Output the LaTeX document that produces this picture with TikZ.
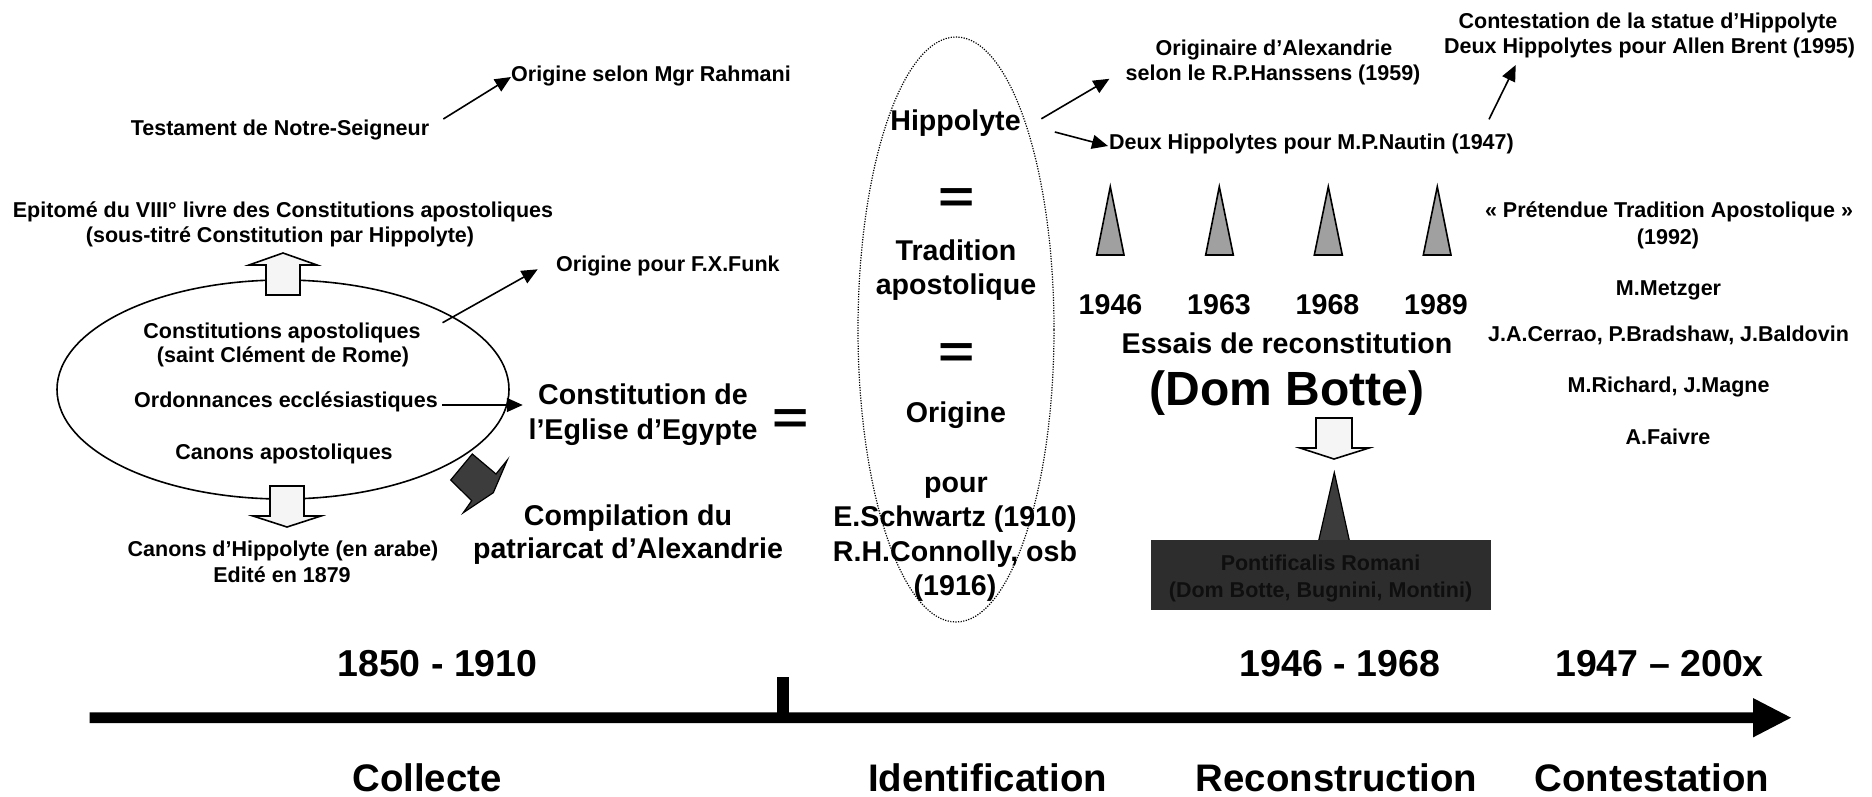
\documentclass[tikz,border=0pt]{standalone}
\usepackage{fontspec}
\usepackage{graphicx}
\setmainfont{Liberation Sans}
\usetikzlibrary{arrows.meta}
\definecolor{lightfill}{RGB}{245,245,245}
\definecolor{trigray}{RGB}{160,160,160}
\definecolor{darkfill}{RGB}{60,60,60}
\definecolor{boxfill}{RGB}{45,45,45}
\definecolor{boxtext}{RGB}{15,15,15}
\newcommand\ftS{\fontsize{21.5}{25.8}\selectfont\bfseries}
\newcommand\ftB{\fontsize{28.6}{34.3}\selectfont\bfseries}
\newcommand\ftH{\fontsize{48}{57.6}\selectfont\bfseries}
\newcommand\ftD{\fontsize{37.5}{45}\selectfont\bfseries}
\newcommand\ftL{\fontsize{38.4}{46}\selectfont\bfseries}
\newcommand\ftE{\fontsize{46}{55}\selectfont\bfseries}
\begin{document}
\begin{tikzpicture}[x=1pt,y=-1pt,
  txt/.style={anchor=base, inner sep=0pt, font=\ftS},
  big/.style={anchor=base, inner sep=0pt, font=\ftB},
  eqsign/.style={anchor=base, inner sep=0pt, font=\ftE},
  datelbl/.style={anchor=base, inner sep=0pt, font=\ftD},
  phase/.style={anchor=base, inner sep=0pt, font=\ftL},
  arr/.style={line width=1.6pt, -{Triangle[length=16pt,width=14pt]}},
  blockarrow/.style={draw=black, line width=1.6pt, fill=lightfill, line join=miter},
  spike/.style={draw=black, line width=1.6pt, fill=trigray, line join=miter},
  dotline/.style={line width=1.2pt, dash pattern=on 1.2pt off 1.4pt}]
\fill[white] (0,0) rectangle (1872,796);
\useasboundingbox (0,0) rectangle (1872,796);

% ---------- left: collection ----------
\draw[line width=1.6pt] (283,389.5) ellipse [x radius=226pt, y radius=109.5pt];
% up block arrow
\draw[blockarrow] (266,295) -- (266,265) -- (249,265) -- (283,253) -- (317,265) -- (300,265) -- (300,295) -- cycle;
% down block arrow
\draw[blockarrow] (270,486) -- (304,486) -- (304,516) -- (321,516) -- (287,527) -- (253,516) -- (270,516) -- cycle;
% dark bent arrow
\draw[fill=darkfill, draw=black, line width=1.2pt, line join=miter]
  (450.7,480) -- (471.7,500.7) -- (463.3,512.7) -- (493.3,492.7) -- (507.3,460) -- (496,474) -- (472.3,454) -- cycle;

\node[txt] (testament) at (280,135.7) {Testament de Notre-Seigneur};
\node[txt, anchor=base west] (rahmani) at (511,81.7) {Origine selon Mgr Rahmani};
\node[txt] (epi1) at (283,217) {Epitomé du VIII° livre des Constitutions apostoliques};
\node[txt] (epi2) at (280,242.7) {(sous-titré Constitution par Hippolyte)};
\node[txt, anchor=base west] (funk) at (556,271.7) {Origine pour F.X.Funk};
\node[txt] (constap) at (282,338.7) {Constitutions apostoliques};
\node[txt] (clement) at (283,362.7) {(saint Clément de Rome)};
\node[txt] (ordo) at (286,407) {Ordonnances ecclésiastiques};
\node[txt] (canap) at (284,459.4) {Canons apostoliques};
\node[txt] (canhip) at (283,556) {Canons d’Hippolyte (en arabe)};
\node[txt] (edite) at (282,582.7) {Edité en 1879};
\node[big] (constde) at (643,404.6) {Constitution de};
\node[big] (eglise) at (643,439.3) {l’Eglise d’Egypte};
\node[eqsign] (eqa) at (791,433) {\scalebox{1.35}[1]{=}};
\node[big] (compil) at (628,525.3) {Compilation du};
\node[big] (patri) at (628,558.6) {patriarcat d’Alexandrie};

\draw[arr] ([shift={(14,-16.7)}]testament.base east) -- ([shift={(0,-4.7)}]rahmani.base west);
\draw[arr] ([shift={(21.8,-16)}]constap.base east) -- ([shift={(-18.3,-2.4)}]funk.base west);
\draw[arr] ([shift={(4,-2)}]ordo.base east) -- ([shift={(-15.2,0.4)}]constde.base west);

% ---------- middle: identification ----------
\draw[dotline] (956,329.5) ellipse [x radius=98pt, y radius=292.5pt];
\node[big] (hippo) at (955.5,130.3) {Hippolyte};
\node[eqsign] (eqb) at (957,212.3) {\scalebox{1.35}[1]{=}};
\node[big] (trad) at (956,260.3) {Tradition};
\node[big] (apos) at (956,294.8) {apostolique};
\node[eqsign] (eqc) at (957,367.8) {\scalebox{1.35}[1]{=}};
\node[big] (orig) at (956,422.3) {Origine};
\node[big] (pour) at (956,492.8) {pour};
\node[big] (schw) at (955,526.3) {E.Schwartz (1910)};
\node[big] (conn) at (955,561) {R.H.Connolly, osb};
\node[big] (y1916) at (955,595.3) {(1916)};

% ---------- reconstruction ----------
\node[txt] (originaire) at (1274,55) {Originaire d’Alexandrie};
\node[txt] (selonle) at (1273,80.4) {selon le R.P.Hanssens (1959)};
\node[txt] (nautin) at (1311.5,149.4) {Deux Hippolytes pour M.P.Nautin (1947)};
\node[txt] (statue) at (1648,28.4) {Contestation de la statue d’Hippolyte};
\node[txt] (brent) at (1649.6,53.4) {Deux Hippolytes pour Allen Brent (1995)};

\draw[arr] ([shift={(20.5,-11.5)}]hippo.base east) -- ([shift={(-16,-1.6)}]selonle.base west);
\draw[arr] ([shift={(34,1.7)}]hippo.base east) -- ([shift={(-1,-3.4)}]nautin.base west);
\draw[arr] ([shift={(-25,-30.1)}]nautin.base east) -- ([shift={(71.8,11.6)}]brent.base west);

\draw[spike] (1096.7,255) -- (1110.3,186.7) -- (1124,255) -- cycle;
\draw[spike] (1205.7,255) -- (1219.3,186.7) -- (1233.3,255) -- cycle;
\draw[spike] (1314.3,255) -- (1328.3,186.7) -- (1342.3,255) -- cycle;
\draw[spike] (1423.3,255) -- (1437.3,186.7) -- (1451,255) -- cycle;
\node[big] (y1946) at (1110.5,314.3) {1946};
\node[big] (y1963) at (1219,314.3) {1963};
\node[big] (y1968) at (1327.5,314.3) {1968};
\node[big] (y1989) at (1436,314.3) {1989};
\node[big] (essais) at (1287,353.6) {Essais de reconstitution};
\node[anchor=base, inner sep=0pt, font=\ftH] (dombotte) at (1287,405.6) {(Dom Botte)};

\draw[blockarrow] (1316,418) -- (1352,418) -- (1352,448) -- (1369,448) -- (1334,459) -- (1300,448) -- (1316,448) -- cycle;
\draw[fill=darkfill, draw=black, line width=1.2pt, line join=miter] (1317,548) -- (1334.3,472.5) -- (1351,548) -- cycle;
\fill[boxfill] (1151,540) rectangle (1491,609.5);
\node[txt, text=boxtext] (pontif) at (1320.5,570.2) {Pontificalis Romani};
\node[txt, text=boxtext] (pontif2) at (1320.5,597.2) {(Dom Botte, Bugnini, Montini)};

% ---------- contestation ----------
\node[txt] (pretendue) at (1669,217.7) {«~Prétendue Tradition Apostolique~»};
\node[txt] (y1992) at (1668,244.4) {(1992)};
\node[txt] (metzger) at (1668.5,295.7) {M.Metzger};
\node[txt] (cerrao) at (1668.5,341) {J.A.Cerrao, P.Bradshaw, J.Baldovin};
\node[txt] (richard) at (1668.6,392.7) {M.Richard, J.Magne};
\node[txt] (faivre) at (1668,444.4) {A.Faivre};

% ---------- timeline ----------
\fill[black] (89.5,712.3) -- (1753,712.3) -- (1753,698) -- (1791,717.7) -- (1753,737.4) -- (1753,723.1) -- (89.5,723.1) -- cycle;
\fill[black] (777,677) rectangle (789,718);
\node[datelbl] (d1) at (437.5,676.7) {1850 - 1910};
\node[datelbl] (d2) at (1340,676.7) {1946 - 1968};
\node[datelbl] (d3) at (1659.5,676.7) {1947 – 200x};
\node[phase] (collecte) at (427,791) {Collecte};
\node[phase] (ident) at (987.5,791) {Identification};
\node[phase] (recon) at (1336.6,791) {Reconstruction};
\node[phase] (contest) at (1652,791) {Contestation};
\end{tikzpicture}
\end{document}
